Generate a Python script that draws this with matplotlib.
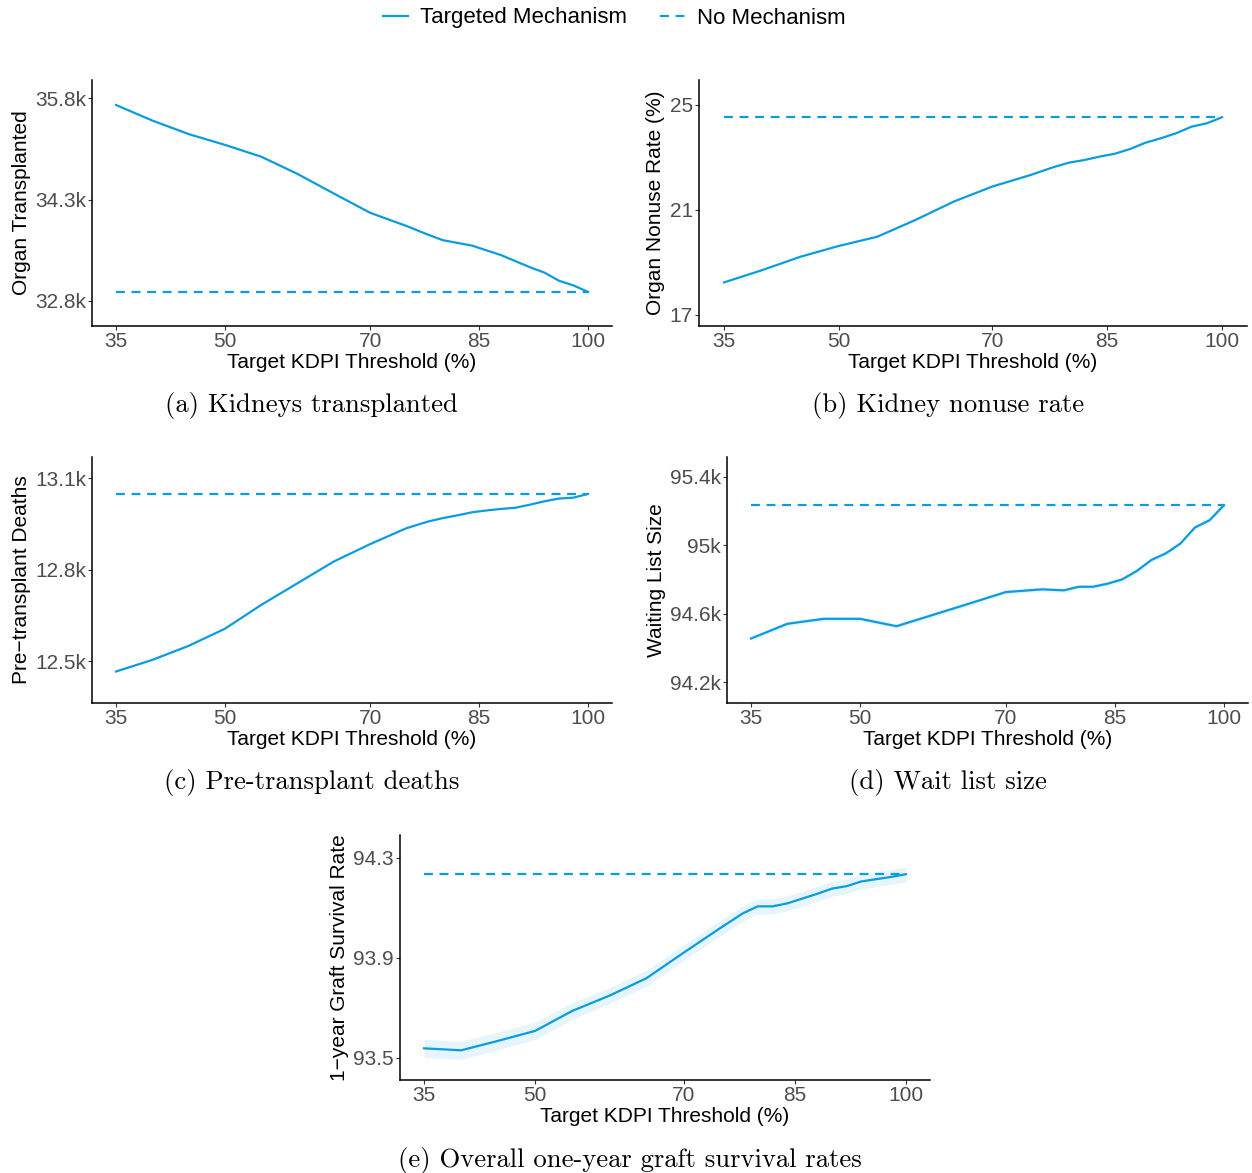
import matplotlib
matplotlib.use("Agg")
from matplotlib import pyplot as plt
from matplotlib.lines import Line2D

plt.rcParams['font.family'] = ['Liberation Sans', 'DejaVu Sans']

# KDPI thresholds used in the simulation runs
kdpi = [35, 40, 45, 50, 55, 60, 65, 70, 75, 78, 80, 82, 84, 86, 88, 90, 92, 94, 96, 98, 100]

transplanted = [35700, 35470, 35270, 35110, 34935, 34680, 34390, 34105, 33910, 33780, 33700,
                33660, 33620, 33550, 33480, 33390, 33300, 33220, 33100, 33030, 32935]
transplanted_base = 32935

nonuse = [18.24, 18.71, 19.22, 19.63, 19.98, 20.62, 21.32, 21.89, 22.33, 22.63, 22.80,
          22.90, 23.03, 23.14, 23.32, 23.56, 23.73, 23.92, 24.17, 24.30, 24.53]
nonuse_base = 24.53

deaths = [12467, 12505, 12551, 12607, 12685, 12756, 12827, 12884, 12936, 12958, 12969,
          12978, 12988, 12994, 12999, 13003, 13013, 13024, 13033, 13036, 13048]
deaths_base = 13048

waitlist = [94456, 94542, 94571, 94571, 94528, 94594, 94660, 94727, 94743, 94737, 94758,
            94758, 94776, 94801, 94850, 94914, 94953, 95010, 95104, 95146, 95234]
waitlist_ci = [14] * 21
waitlist_base = 95234

survival = [93.537, 93.529, 93.567, 93.607, 93.687, 93.748, 93.818, 93.920, 94.020, 94.078, 94.106,
            94.106, 94.118, 94.137, 94.156, 94.177, 94.187, 94.206, 94.215, 94.224, 94.235]
survival_ci = [0.036, 0.036, 0.035, 0.035, 0.033, 0.032, 0.032, 0.031, 0.031, 0.031, 0.031,
               0.030, 0.030, 0.030, 0.030, 0.030, 0.030, 0.030, 0.030, 0.030, 0.030]
survival_base = 94.236

xticks = [35, 50, 70, 85, 100]
BLUE = '#0A9CDF'
W, H = 1252, 1173


def k_fmt(v):
    return f"{v / 1000:g}k"


def panel(box, y, base, ylabel, yticks, ylim, fmt, caption, cap_x, cap_y, ci=None):
    l, t, r, b = box
    ax = fig.add_axes([l / W, 1 - b / H, (r - l) / W, (b - t) / H])
    if ci is not None:
        lo = [v - c for v, c in zip(y, ci)]
        hi = [v + c for v, c in zip(y, ci)]
        ax.fill_between(kdpi, lo, hi, color=BLUE, alpha=0.10, lw=0)
    ax.plot([kdpi[0], kdpi[-1]], [base, base], color=BLUE, lw=1.6, dashes=(4, 3))
    ax.plot(kdpi, y, color=BLUE, lw=1.6)
    ax.set_xlim(31.75, 103.25)
    ax.set_ylim(*ylim)
    ax.set_xticks(xticks)
    ax.set_yticks(yticks)
    ax.set_yticklabels([fmt(v) for v in yticks])
    for s in ['top', 'right']:
        ax.spines[s].set_visible(False)
    for s in ['left', 'bottom']:
        ax.spines[s].set_linewidth(1.1)
    ax.tick_params(labelsize=15, labelcolor='#4D4D4D', color='#333333',
                   length=3, width=0.8, pad=1.5)
    ax.set_xlabel('Target KDPI Threshold (%)', fontsize=15, labelpad=1)
    ax.set_ylabel(ylabel, fontsize=15, labelpad=3)
    fig.text(cap_x / W, 1 - cap_y / H, caption, family='cmr10', fontsize=19.2,
             ha='center', va='center')
    return ax


fig = plt.figure(figsize=(W / 100, H / 100), dpi=100)

panel((92.4, 80, 611.6, 326), transplanted, transplanted_base, 'Organ Transplanted',
      [32800, 34300, 35800], (32430, 36070), k_fmt, '(a) Kidneys transplanted', 311, 405)
panel((699.1, 80, 1246.9, 326), nonuse, nonuse_base, 'Organ Nonuse Rate (%)',
      [17, 21, 25], (16.58, 25.95), lambda v: f"{v:g}", '(b) Kidney nonuse rate', 948, 405)
panel((92.4, 457, 611.6, 703), deaths, deaths_base, 'Pre\u2212transplant Deaths',
      [12500, 12800, 13100], (12364, 13169), k_fmt, '(c) Pre-transplant deaths', 312, 782)
panel((727.3, 457, 1247.7, 703), waitlist, waitlist_base, 'Waiting List Size',
      [94200, 94600, 95000, 95400], (94080, 95515), k_fmt, '(d) Wait list size', 948, 782,
      ci=waitlist_ci)
panel((399.9, 835, 930.1, 1080), survival, survival_base, '1\u2212year Graft Survival Rate',
      [93.5, 93.9, 94.3], (93.41, 94.392), lambda v: f"{v:g}",
      '(e) Overall one-year graft survival rates', 630, 1160, ci=survival_ci)

handles = [Line2D([], [], color=BLUE, lw=1.6),
           Line2D([], [], color=BLUE, lw=1.6, dashes=(4, 3))]
fig.legend(handles, ['Targeted Mechanism', 'No Mechanism'], loc='center',
           bbox_to_anchor=(614 / W, 1 - 18 / H), ncol=2, frameon=False, fontsize=16,
           handlelength=1.15, handletextpad=0.5, columnspacing=1.5)

fig.savefig('out.png', dpi=100)
